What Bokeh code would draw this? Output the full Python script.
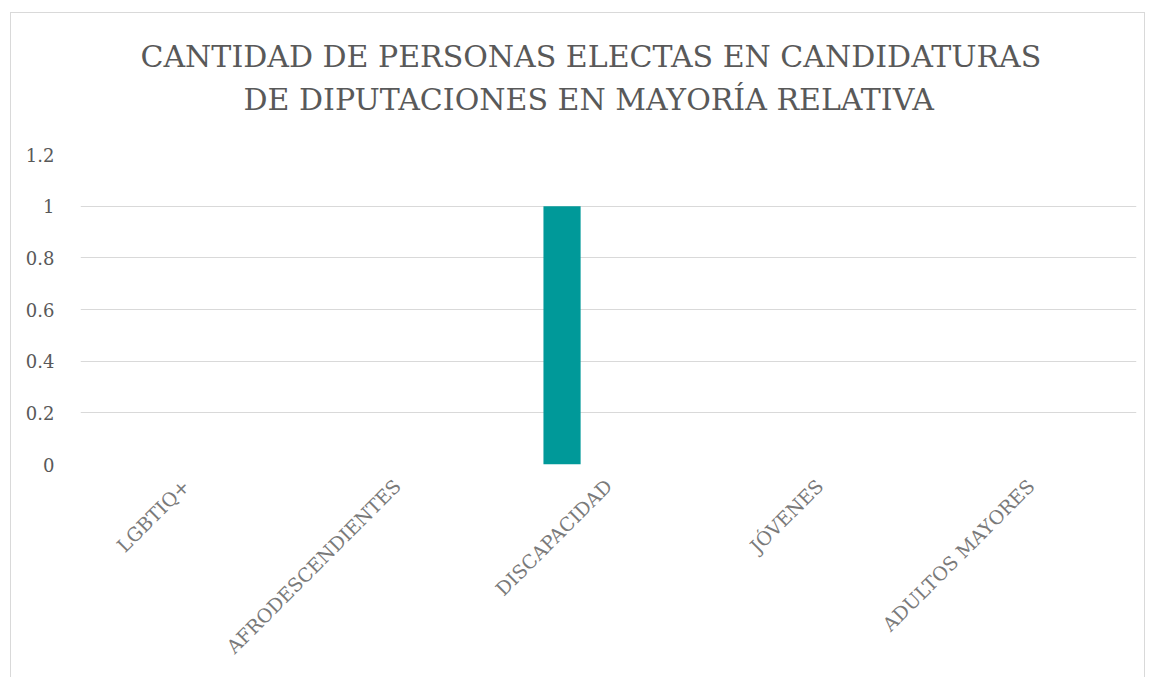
from bokeh.plotting import figure
from bokeh.models import FactorRange, FixedTicker, Title, ColumnDataSource
from bokeh.transform import dodge
from bokeh.embed import file_html
from bokeh.resources import INLINE
import math

categories = ["LGBTIQ+", "AFRODESCENDIENTES", "DISCAPACIDAD", "JÓVENES", "ADULTOS MAYORES"]
values = [0, 0, 1, 0, 0]
y_ticks = [0, 0.2, 0.4, 0.6, 0.8, 1.0, 1.2]
y_tick_labels = ["0", "0.2", "0.4", "0.6", "0.8", "1", "1.2"]
title_lines = ["CANTIDAD DE PERSONAS ELECTAS EN CANDIDATURAS",
               "DE DIPUTACIONES EN MAYORÍA RELATIVA"]

SERIF = "DejaVu Serif"

src = ColumnDataSource(dict(cat=categories, val=values))

p = figure(x_range=FactorRange(*categories, range_padding=0), y_range=(0, 1.2),
           width=1135, height=665, output_backend="svg", toolbar_location=None,
           min_border_left=69, min_border_right=10, min_border_top=141, min_border_bottom=214)
p.styles = {"border": "1px solid #d9d9d9", "border-bottom": "none",
            "margin-left": "10px", "margin-top": "12px"}
p.outline_line_color = None

p.add_layout(Title(text=title_lines[1], align="left", offset=163, text_font=SERIF,
                   text_font_size="30px", text_color="#595959", text_font_style="normal",
                   standoff=76), "above")
p.add_layout(Title(text=title_lines[0], align="left", offset=60, text_font=SERIF,
                   text_font_size="30px", text_color="#595959", text_font_style="normal",
                   standoff=-64), "above")

p.vbar(x=dodge("cat", -0.22, range=p.x_range), top="val", width=0.176, source=src,
       color="#009999", line_color=None)

p.xgrid.grid_line_color = None
p.ygrid.grid_line_color = "#d9d9d9"
p.ygrid.grid_line_width = 1

p.yaxis.ticker = FixedTicker(ticks=y_ticks)
p.yaxis.major_label_overrides = {t: l for t, l in zip(y_ticks, y_tick_labels)}
p.yaxis.axis_line_color = None
p.yaxis.major_tick_line_color = None
p.yaxis.minor_tick_line_color = None
p.yaxis.major_label_text_font = SERIF
p.yaxis.major_label_text_font_size = "18px"
p.yaxis.major_label_text_color = "#595959"
p.yaxis.major_label_standoff = 20

p.xaxis.axis_line_color = None
p.xaxis.major_tick_line_color = None
p.xaxis.major_label_orientation = math.pi / 4
p.xaxis.major_label_text_font = SERIF
p.xaxis.major_label_text_font_size = "19px"
p.xaxis.major_label_text_color = "#7a7a7a"
p.xaxis.major_label_standoff = 12

open("out.html", "w").write(file_html(p, INLINE))
